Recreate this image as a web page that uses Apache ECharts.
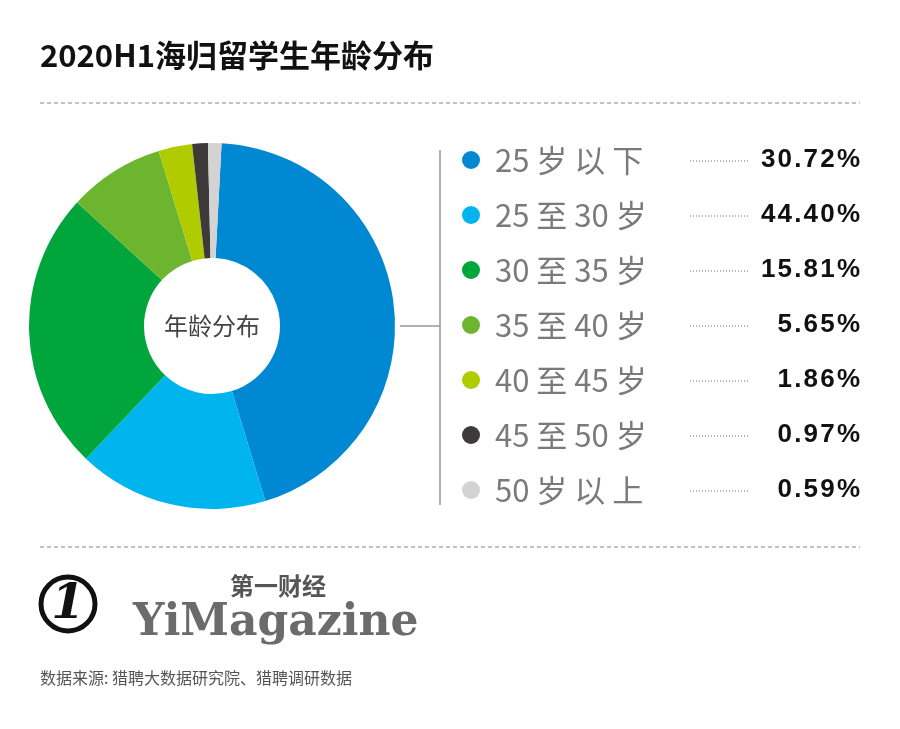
<!DOCTYPE html><html><head><meta charset="utf-8"><script src="https://cdn.jsdelivr.net/npm/echarts@6/dist/echarts.min.js"></script>
<style>html,body{margin:0;background:#fff}#c{width:900px;height:729px}</style></head><body><div id="c"></div><script>
const legendNames=['25 岁 以 下','25 至 30 岁','30 至 35 岁','35 至 40 岁','40 至 45 岁','45 至 50 岁','50 岁 以 上'];
const legendPct=['30.72%','44.40%','15.81%','5.65%','1.86%','0.97%','0.59%'];
const colors=['#0088d2','#00b5ee','#00a53c','#6db52e','#b0cc00','#3e3a39','#d3d3d3'];
// slice sizes as drawn in the picture (clockwise from top)
const sliceValues=[45,17,25,8.6,3,1.4,1.2];
const sliceColors=['#0088d2','#00b5ee','#00a53c','#6db52e','#b0cc00','#3e3a39','#d3d3d3'];
const ch=echarts.init(document.getElementById('c'));
const g=[];
const F='"Noto Sans CJK SC","Noto Sans",sans-serif';
g.push({type:'text',left:40,top:40,style:{text:'2020H1海归留学生年龄分布',font:'bold 31px '+F,fill:'#111'}});
[103,547].forEach(y=>g.push({type:'line',shape:{x1:40,y1:y,x2:860,y2:y},style:{stroke:'#888',lineWidth:1,lineDash:[4,3]}}));
g.push({type:'line',shape:{x1:440,y1:150,x2:440,y2:505},style:{stroke:'#999',lineWidth:1.5}});
g.push({type:'line',shape:{x1:400,y1:326,x2:440,y2:326},style:{stroke:'#999',lineWidth:1.5}});
legendNames.forEach((n,i)=>{const y=160+i*55;
 g.push({type:'circle',shape:{cx:471,cy:y,r:9},style:{fill:colors[i]}});
 g.push({type:'text',x:495,y:y,style:{text:n,font:'31px '+F,fill:'#7a7a7a',textVerticalAlign:'middle'}});
 g.push({type:'line',shape:{x1:690,y1:y+1,x2:750,y2:y+1},style:{stroke:'#666',lineWidth:1,lineDash:[1,2]}});
 g.push({type:'text',x:860,y:y,style:{text:legendPct[i].split('').join('\u200A'),font:'bold 26px "Liberation Sans Narrow",sans-serif',fill:'#111',textAlign:'right',textVerticalAlign:'middle'}});
});
g.push({type:'circle',shape:{cx:68,cy:604,r:27},style:{fill:'none',stroke:'#111',lineWidth:5}});
g.push({type:'text',x:68,y:606,style:{text:'1',font:'italic bold 48px "DejaVu Serif",serif',fill:'#111',textAlign:'center',textVerticalAlign:'middle'}});
g.push({type:'text',x:278,y:586,style:{text:'第一财经',font:'bold 24px '+F,fill:'#555',textAlign:'center',textVerticalAlign:'middle'}});
g.push({type:'text',x:133,y:624,style:{text:'YiMagazine',font:'bold 44px "DejaVu Serif",serif',fill:'#6b6b6b',textVerticalAlign:'middle'}});
g.push({type:'text',x:40,y:678,style:{text:'数据来源: 猎聘大数据研究院、猎聘调研数据',font:'16px '+F,fill:'#555',textVerticalAlign:'middle'}});
ch.setOption({animation:false,graphic:g,series:[{type:'pie',center:[212,326],radius:[68,183],startAngle:87,clockwise:true,label:{show:true,position:'center',formatter:()=> '年龄分布',fontSize:24,color:'#444',fontFamily:F},labelLine:{show:false},silent:true,
 data:sliceValues.map((v,i)=>({value:v,itemStyle:{color:sliceColors[i]},label:{show:i===0}}))}]});
</script></body></html>
